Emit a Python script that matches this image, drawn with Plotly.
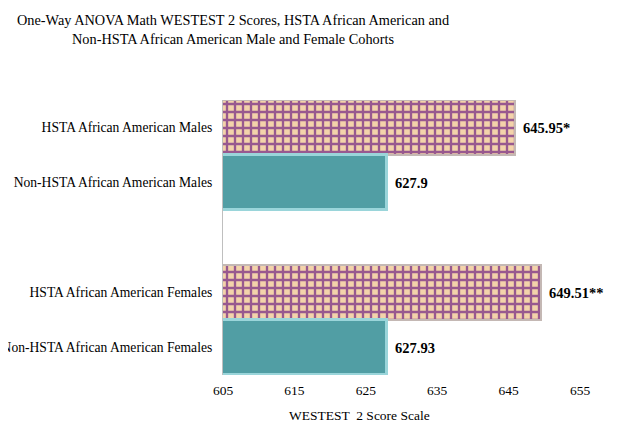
import plotly.graph_objects as go

# ---- data ----
categories = [
    "Non-HSTA African American Females",
    "HSTA African American Females",
    " ",
    "Non-HSTA African American Males",
    "HSTA African American Males",
]
hsta_cats = ["HSTA African American Females", "HSTA African American Males"]
hsta_vals = [649.51, 645.95]
hsta_labels = ["649.51**", "645.95*"]
non_cats = ["Non-HSTA African American Females", "Non-HSTA African American Males"]
non_vals = [627.93, 627.9]
non_labels = ["627.93", "627.9"]
x_ticks = [605, 615, 625, 635, 645, 655]

SERIF = "Liberation Serif, Times New Roman, serif"
# page has an 8px body margin, so the figure is drawn 8px smaller
OFF = 8
W, H = 636 - OFF, 424 - OFF
L, R, T, B = 223 - OFF, 56, 100 - OFF, 49
PW, PH = W - L - R, H - T - B


def px_x(p):
    return (p - OFF - L) / PW


def px_y(p):
    return (H - B - (p - OFF)) / PH


fig = go.Figure()

fig.add_trace(go.Bar(
    y=hsta_cats, x=hsta_vals, orientation="h",
    marker=dict(
        color="#F3D3AA",
        line=dict(color="#C4B8B4", width=2),
        pattern=dict(shape="+", fgcolor="#98598F", bgcolor="#F3D3AA",
                     size=8, solidity=0.5, fillmode="replace"),
    ),
    showlegend=False, hoverinfo="skip",
))
fig.add_trace(go.Bar(
    y=non_cats, x=non_vals, orientation="h",
    marker=dict(color="#519EA4", line=dict(color="#9AD5DA", width=3)),
    showlegend=False, hoverinfo="skip",
))

annotations = []
for c, v, t in list(zip(hsta_cats, hsta_vals, hsta_labels)) + list(zip(non_cats, non_vals, non_labels)):
    annotations.append(dict(
        x=v, y=c, xref="x", yref="y", text="<b>%s</b>" % t, showarrow=False,
        xanchor="left", xshift=6, font=dict(family=SERIF, size=14.5, color="#000000"),
    ))

annotations.append(dict(
    x=px_x(359), y=px_y(415), xref="paper", yref="paper", text="WESTEST  2 Score Scale",
    showarrow=False, xanchor="center", yanchor="middle",
    font=dict(family=SERIF, size=13.5, color="#000000"),
))
annotations.append(dict(
    x=px_x(233), y=px_y(10), xref="paper", yref="paper",
    text="One-Way ANOVA Math WESTEST 2 Scores, HSTA African American and<br>Non-HSTA African American Male and Female Cohorts",
    showarrow=False, xanchor="center", yanchor="top", align="center",
    font=dict(family=SERIF, size=14.3, color="#000000"),
))

fig.update_layout(
    width=W, height=H,
    paper_bgcolor="white", plot_bgcolor="white",
    margin=dict(l=L, r=R, t=T, b=B, autoexpand=False),
    barmode="overlay", bargap=0,
    xaxis=dict(
        range=[605, 655], tickvals=x_ticks, ticktext=[str(t) for t in x_ticks],
        showgrid=False, zeroline=False, showline=False, ticks="",
        tickfont=dict(family=SERIF, size=13.5, color="#000000"),
        ticklabelstandoff=5, automargin=False,
    ),
    yaxis=dict(
        type="category", categoryorder="array", categoryarray=categories,
        range=[-0.5, 4.5], showgrid=False, zeroline=False,
        showline=True, linecolor="#BFBFBF", linewidth=1, ticks="",
        tickfont=dict(family=SERIF, size=13.6, color="#000000"),
        ticklabelstandoff=7, automargin=False,
    ),
    annotations=annotations,
)

fig.write_html("out.html")
